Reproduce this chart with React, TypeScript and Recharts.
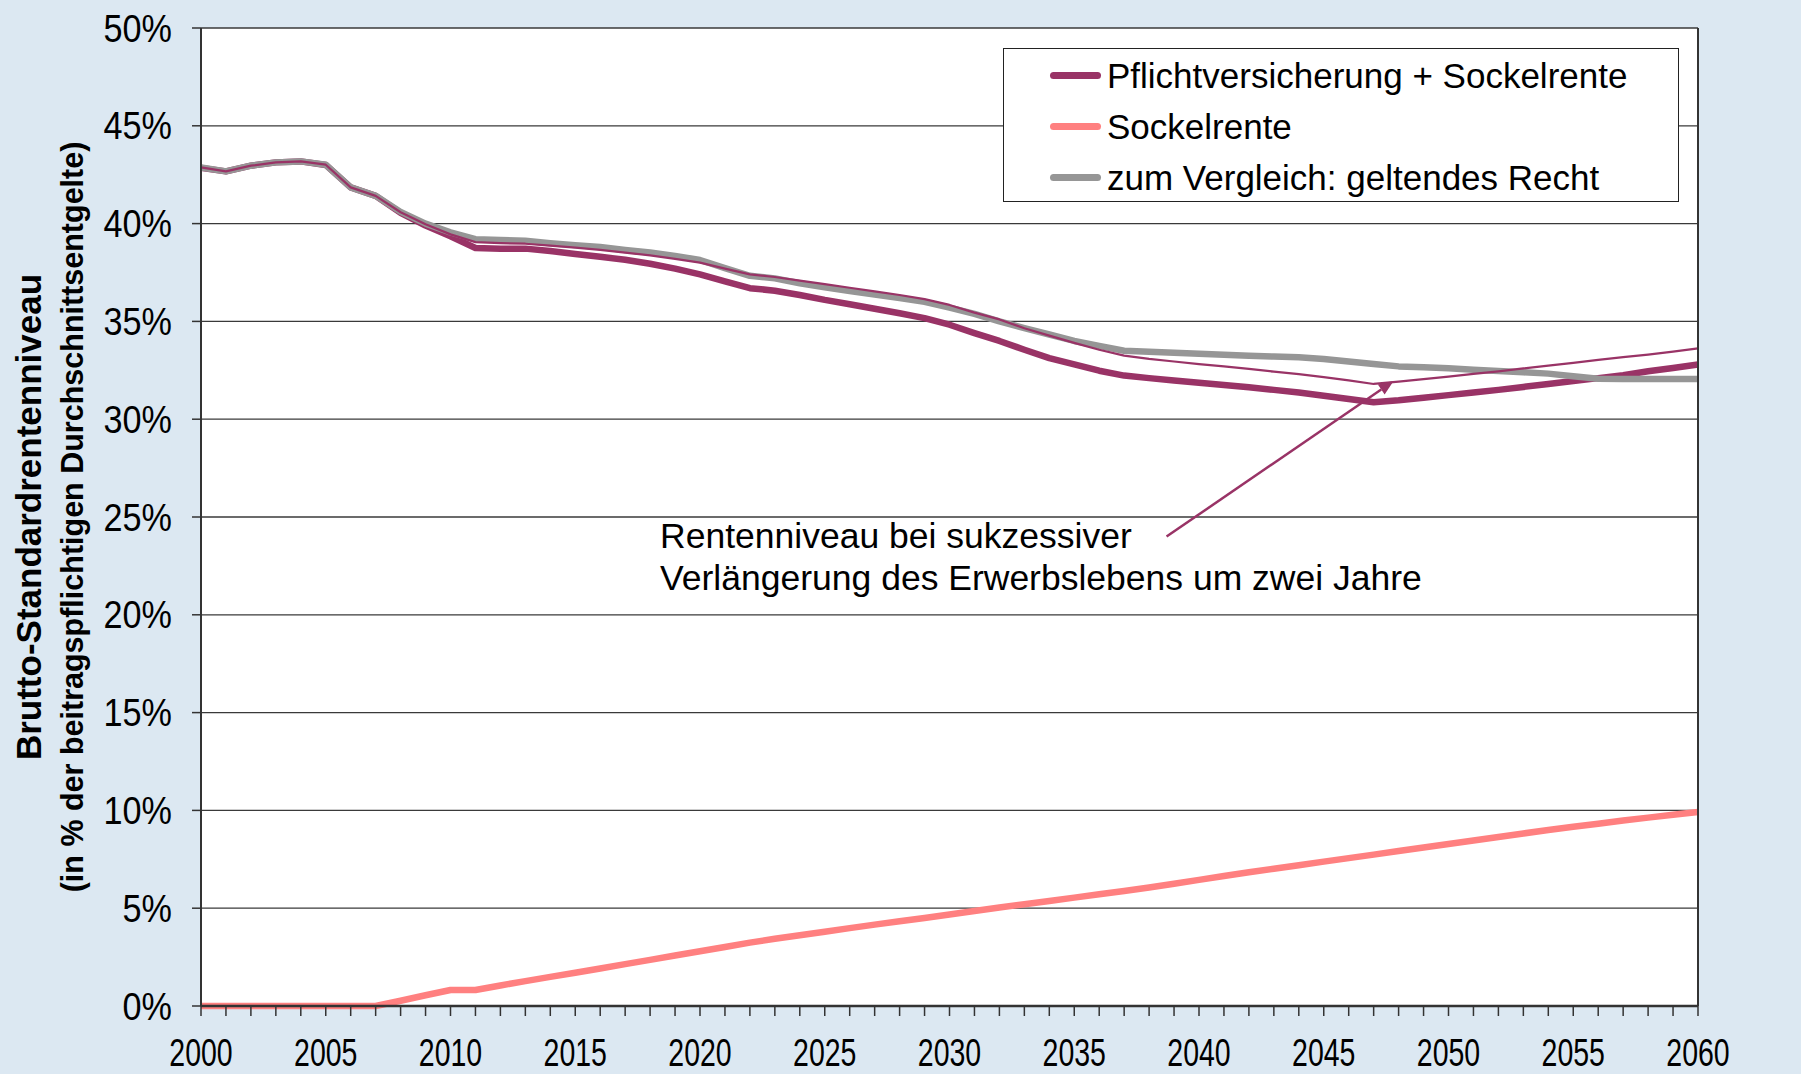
import React from "react";
import {
  LineChart,
  Line,
  XAxis,
  YAxis,
  CartesianGrid,
  Legend,
  ReferenceLine,
  ReferenceDot,
} from "recharts";

const FONT = "'Liberation Sans', Arial, Helvetica, sans-serif";

const years = [
  2000, 2001, 2002, 2003, 2004, 2005, 2006, 2007, 2008, 2009,
  2010, 2011, 2012, 2013, 2014, 2015, 2016, 2017, 2018, 2019,
  2020, 2021, 2022, 2023, 2024, 2025, 2026, 2027, 2028, 2029,
  2030, 2031, 2032, 2033, 2034, 2035, 2036, 2037, 2038, 2039,
  2040, 2041, 2042, 2043, 2044, 2045, 2046, 2047, 2048, 2049,
  2050, 2051, 2052, 2053, 2054, 2055, 2056, 2057, 2058, 2059,
  2060,
];

// Pflichtversicherung + Sockelrente (thick purple)
const pflichtSockelrente = [
  42.85, 42.67, 42.96, 43.13, 43.18, 43.0, 41.85, 41.42, 40.55, 39.9,
  39.35, 38.75, 38.72, 38.72, 38.6, 38.45, 38.3, 38.15, 37.95, 37.7,
  37.4, 37.05, 36.7, 36.57, 36.35, 36.1, 35.88, 35.65, 35.42, 35.17,
  34.83, 34.4, 34.0, 33.55, 33.12, 32.8, 32.48, 32.23, 32.1, 31.98,
  31.86, 31.75, 31.63, 31.5, 31.36, 31.2, 31.03, 30.87, 30.97, 31.1,
  31.23, 31.37, 31.5, 31.65, 31.8, 31.95, 32.1, 32.25, 32.45, 32.62,
  32.8,
];

// Sockelrente (salmon)
const sockelrente = [
  0, 0, 0, 0, 0, 0, 0, 0, 0.27, 0.55,
  0.82, 0.82, 1.05, 1.27, 1.49, 1.7, 1.92, 2.14, 2.36, 2.58,
  2.8, 3.02, 3.24, 3.44, 3.62, 3.8, 3.98, 4.16, 4.33, 4.5,
  4.68, 4.86, 5.04, 5.2, 5.37, 5.54, 5.71, 5.88, 6.06, 6.25,
  6.45, 6.65, 6.84, 7.02, 7.2, 7.38, 7.56, 7.74, 7.92, 8.1,
  8.28, 8.46, 8.64, 8.82, 9.0, 9.16, 9.32, 9.48, 9.63, 9.78,
  9.92,
];

// zum Vergleich: geltendes Recht (gray)
const geltendesRecht = [
  42.87, 42.67, 42.96, 43.13, 43.18, 43.01, 41.85, 41.42, 40.6, 40.0,
  39.55, 39.2, 39.16, 39.12, 39.0, 38.9, 38.8, 38.65, 38.52, 38.35,
  38.14, 37.72, 37.33, 37.2, 36.95, 36.74, 36.55, 36.38, 36.2, 36.0,
  35.7, 35.38, 35.0, 34.66, 34.33, 34.0, 33.75, 33.5, 33.45, 33.4,
  33.35, 33.3, 33.25, 33.2, 33.17, 33.08, 32.95, 32.82, 32.7, 32.66,
  32.6, 32.53, 32.47, 32.4, 32.33, 32.2, 32.07, 32.06, 32.06, 32.06,
  32.06,
];

// Rentenniveau bei sukzessiver Verlängerung des Erwerbslebens (thin purple)
const verlaengerung = [
  42.87, 42.67, 42.96, 43.13, 43.18, 43.01, 41.85, 41.42, 40.58, 39.97,
  39.45, 39.05, 39.0, 38.97, 38.87, 38.77, 38.66, 38.52, 38.37, 38.2,
  38.0, 37.7, 37.4, 37.27, 37.08, 36.9, 36.72, 36.53, 36.35, 36.14,
  35.84, 35.45, 35.1, 34.65, 34.27, 33.9, 33.55, 33.25, 33.08, 32.95,
  32.82, 32.7, 32.57, 32.43, 32.3, 32.15, 31.98, 31.8, 31.92, 32.05,
  32.18, 32.32, 32.45, 32.6, 32.74, 32.88, 33.03, 33.17, 33.3, 33.45,
  33.62,
];

const yTicks = [0, 5, 10, 15, 20, 25, 30, 35, 40, 45, 50];

const legendOrder = [
  "Pflichtversicherung + Sockelrente",
  "Sockelrente",
  "zum Vergleich: geltendes Recht",
];

const noteLines = [
  "Rentenniveau bei sukzessiver",
  "Verlängerung des Erwerbslebens um zwei Jahre",
];
const noteAnchor = { year: 2018.4, value: 23.4 };
const arrowFrom = { year: 2038.7, value: 24.0 };
const arrowTo = { year: 2047.8, value: 31.95 };

const data = years.map((year, i) => ({
  year,
  pflicht: pflichtSockelrente[i],
  sockel: sockelrente[i],
  recht: geltendesRecht[i],
  verl: verlaengerung[i],
}));

const PURPLE = "#993366";
const SALMON = "#ff8080";
const GRAY = "#969696";
const AXIS = "#333333";

function YearTick({ x, y, payload }: any) {
  const v = payload.value;
  if (v % 5 !== 0) return <g />;
  return (
    <text
      transform={`translate(${x},${y + 50}) scale(0.75,1)`}
      textAnchor="middle"
      fontSize={38}
      fontFamily={FONT}
      fill="#000"
    >
      {v}
    </text>
  );
}

function LeftPctTick({ x, y, payload }: any) {
  return (
    <text
      transform={`translate(${x},${y + 13.5}) scale(0.9,1)`}
      textAnchor="end"
      fontSize={38}
      fontFamily={FONT}
      fill="#000"
    >
      {payload.value}%
    </text>
  );
}

function RightPctTick({ x, y, payload }: any) {
  return (
    <text
      transform={`translate(${x},${y + 13.5}) scale(0.9,1)`}
      textAnchor="start"
      fontSize={38}
      fontFamily={FONT}
      fill="#000"
    >
      {payload.value}%
    </text>
  );
}

function YTitle(props: any) {
  const vb = props.viewBox || { x: 0, y: 28, width: 201, height: 978 };
  const cy = vb.y + vb.height / 2;
  return (
    <g fontFamily={FONT} fontWeight="bold" fill="#000">
      <text
        transform={`translate(${vb.x + 28},${cy}) rotate(-90)`}
        textAnchor="middle"
        dominantBaseline="central"
        fontSize={35}
      >
        Brutto-Standardrentenniveau
      </text>
      <text
        transform={`translate(${vb.x + 72},${cy}) rotate(-90)`}
        textAnchor="middle"
        dominantBaseline="central"
        fontSize={30.5}
      >
        (in % der beitragspflichtigen Durchschnittsentgelte)
      </text>
    </g>
  );
}

function ArrowShape(props: any) {
  const { x1, y1, x2, y2 } = props;
  const ang = Math.atan2(y2 - y1, x2 - x1);
  const len = 15;
  const half = 6;
  const bx = x2 - len * Math.cos(ang);
  const by = y2 - len * Math.sin(ang);
  const px = -Math.sin(ang) * half;
  const py = Math.cos(ang) * half;
  return (
    <g>
      <line x1={x1} y1={y1} x2={bx} y2={by} stroke={PURPLE} strokeWidth={2.5} />
      <polygon
        points={`${x2},${y2} ${bx + px},${by + py} ${bx - px},${by - py}`}
        fill={PURPLE}
      />
    </g>
  );
}

function NoteShape(props: any) {
  const { cx, cy } = props;
  return (
    <g fontFamily={FONT} fontSize={35.5} fill="#000">
      {noteLines.map((line, i) => (
        <text key={line} x={cx} y={cy + i * 42}>
          {line}
        </text>
      ))}
    </g>
  );
}

function LegendBox({ payload }: any) {
  const items = legendOrder
    .map((name) => (payload || []).find((p: any) => p.value === name))
    .filter(Boolean);
  return (
    <div
      style={{
        width: 676,
        height: 154,
        boxSizing: "border-box",
        border: "1.5px solid #222",
        background: "#fff",
        fontFamily: FONT,
        fontSize: 35,
        color: "#000",
        paddingTop: 1,
      }}
    >
      {items.map((item: any) => (
        <div
          key={item.value}
          style={{ display: "flex", alignItems: "center", height: 51 }}
        >
          <span
            style={{
              display: "inline-block",
              marginLeft: 46,
              width: 51,
              height: 7,
              borderRadius: 4,
              background: item.color,
              marginRight: 6,
            }}
          />
          <span style={{ whiteSpace: "nowrap" }}>{item.value}</span>
        </div>
      ))}
    </div>
  );
}

export default function App() {
  return (
    <div
      style={{
        position: "absolute",
        left: 0,
        top: 0,
        width: 1801,
        height: 1074,
        background: "#dce8f2",
      }}
    >
      <LineChart
        width={1801}
        height={1074}
        data={data}
        margin={{ top: 28, right: 0, bottom: 0, left: 0 }}
      >
        <CartesianGrid
          yAxisId="left"
          vertical={false}
          fill="#ffffff"
          stroke="#3a3a3a"
          strokeWidth={1.3}
        />
        <XAxis
          dataKey="year"
          type="number"
          domain={[2000, 2060]}
          ticks={years}
          interval={0}
          height={68}
          tickSize={10}
          tickMargin={0}
          axisLine={{ stroke: AXIS, strokeWidth: 2.5 }}
          tickLine={{ stroke: AXIS, strokeWidth: 1.5 }}
          tick={<YearTick />}
        />
        <YAxis
          yAxisId="left"
          domain={[0, 50]}
          ticks={yTicks}
          width={201}
          tickSize={9}
          tickMargin={20}
          axisLine={{ stroke: AXIS, strokeWidth: 2 }}
          tickLine={{ stroke: AXIS, strokeWidth: 1.5 }}
          tick={<LeftPctTick />}
          label={{ content: (p: any) => <YTitle {...p} /> }}
        />
        <YAxis
          yAxisId="right"
          orientation="right"
          domain={[0, 50]}
          ticks={yTicks}
          width={103}
          tickSize={9}
          tickMargin={20}
          axisLine={{ stroke: AXIS, strokeWidth: 2 }}
          tickLine={{ stroke: AXIS, strokeWidth: 1.5 }}
          tick={<RightPctTick />}
        />
        <Legend
          layout="vertical"
          align="center"
          verticalAlign="middle"
          wrapperStyle={{ top: 48, left: 1003, width: 676, height: 154 }}
          content={<LegendBox />}
        />
        <Line
          yAxisId="left"
          type="linear"
          dataKey="sockel"
          name="Sockelrente"
          stroke={SALMON}
          strokeWidth={6.5}
          strokeLinejoin="round"
          dot={false}
          activeDot={false}
          isAnimationActive={false}
        />
        <Line
          yAxisId="left"
          type="linear"
          dataKey="pflicht"
          name="Pflichtversicherung + Sockelrente"
          stroke={PURPLE}
          strokeWidth={6.5}
          strokeLinejoin="round"
          dot={false}
          activeDot={false}
          isAnimationActive={false}
        />
        <Line
          yAxisId="left"
          type="linear"
          dataKey="recht"
          name="zum Vergleich: geltendes Recht"
          stroke={GRAY}
          strokeWidth={6.5}
          strokeLinejoin="round"
          dot={false}
          activeDot={false}
          isAnimationActive={false}
        />
        <Line
          yAxisId="left"
          type="linear"
          dataKey="verl"
          name="Verlängerung des Erwerbslebens"
          legendType="none"
          stroke={PURPLE}
          strokeWidth={2.25}
          strokeLinejoin="round"
          dot={false}
          activeDot={false}
          isAnimationActive={false}
        />
        <ReferenceLine
          yAxisId="left"
          segment={[
            { x: arrowFrom.year, y: arrowFrom.value },
            { x: arrowTo.year, y: arrowTo.value },
          ]}
          shape={(p: any) => <ArrowShape {...p} />}
        />
        <ReferenceDot
          yAxisId="left"
          x={noteAnchor.year}
          y={noteAnchor.value}
          r={0}
          shape={(p: any) => <NoteShape {...p} />}
        />
      </LineChart>
    </div>
  );
}
